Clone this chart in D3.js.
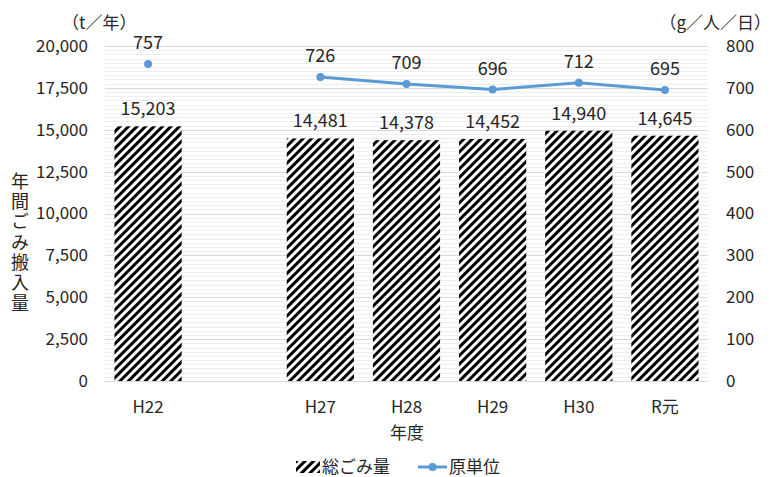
<!DOCTYPE html>
<html>
<head>
<meta charset="utf-8">
<script src="https://cdn.jsdelivr.net/npm/d3@7"></script>
<style>
  html, body { margin: 0; padding: 0; background: #fff; }
  svg text { font-family: "Noto Sans CJK JP", "Noto Sans", sans-serif; fill: #262626; }
</style>
</head>
<body>
<svg id="chart" width="771" height="477"></svg>
<script>
// categories (blank slot between H22 and H27)
const years = ["H22", " ", "H27", "H28", "H29", "H30", "R元"];
const totalWaste = [15203, null, 14481, 14378, 14452, 14940, 14645]; // t/年
const perCapita = [757, null, 726, 709, 696, 712, 695];               // g/人/日
const leftTicks = [0, 2500, 5000, 7500, 10000, 12500, 15000, 17500, 20000];
const rightTicks = [0, 100, 200, 300, 400, 500, 600, 700, 800];

const margin = { top: 46, right: 63, bottom: 96, left: 105 };
const W = 771, H = 477;
const iw = W - margin.left - margin.right;
const ih = H - margin.top - margin.bottom;

const svg = d3.select("#chart");
const defs = svg.append("defs");

// diagonal hatch for bars
const hatch = defs.append("pattern")
  .attr("id", "hatch").attr("patternUnits", "userSpaceOnUse")
  .attr("width", 6).attr("height", 6)
  .attr("patternTransform", "rotate(45)");
hatch.append("rect").attr("width", 6).attr("height", 6).attr("fill", "#fff");
hatch.append("rect").attr("x", 0).attr("width", 3).attr("height", 6).attr("fill", "#000");

const g = svg.append("g").attr("transform", `translate(${margin.left},${margin.top})`);

const x = d3.scaleBand().domain(years).range([0, iw]).paddingInner(0.22).paddingOuter(0.11);
const yL = d3.scaleLinear().domain([0, 20000]).range([ih, 0]);
const yR = d3.scaleLinear().domain([0, 800]).range([ih, 0]);

// faint minor lines (every 250)
g.append("g").selectAll("line")
  .data(d3.range(0, 20001, 250))
  .join("line")
  .attr("x1", 0).attr("x2", iw)
  .attr("y1", d => Math.round(yL(d)) + 0.5).attr("y2", d => Math.round(yL(d)) + 0.5)
  .attr("stroke", "#eeeeee").attr("stroke-width", 1);

// major gridlines
g.append("g").selectAll("line")
  .data(leftTicks)
  .join("line")
  .attr("x1", 0).attr("x2", iw)
  .attr("y1", d => Math.round(yL(d)) + 0.5).attr("y2", d => Math.round(yL(d)) + 0.5)
  .attr("stroke", "#d9d9d9").attr("stroke-width", 1);

// axes (labels only)
const fmt = d3.format(",");
const axL = g.append("g")
  .call(d3.axisLeft(yL).tickValues(leftTicks).tickFormat(fmt).tickSize(0).tickPadding(17));
const axR = g.append("g").attr("transform", `translate(${iw},0)`)
  .call(d3.axisRight(yR).tickValues(rightTicks).tickSize(0).tickPadding(18));
const axB = g.append("g").attr("transform", `translate(0,${ih})`)
  .call(d3.axisBottom(x).tickSize(0).tickPadding(20));
[axL, axR, axB].forEach(a => {
  a.select(".domain").remove();
  a.selectAll("text").style("font-size", "17px").attr("fill", "#262626")
    .style("font-family", "'Noto Sans CJK JP', sans-serif");
});

// bars
const barData = years.map((c, i) => ({ c, v: totalWaste[i] })).filter(d => d.v != null);
g.selectAll("rect.bar")
  .data(barData)
  .join("rect")
  .attr("class", "bar")
  .attr("x", d => x(d.c))
  .attr("width", x.bandwidth())
  .attr("y", d => yL(d.v))
  .attr("height", d => ih - yL(d.v))
  .attr("fill", "url(#hatch)");

g.selectAll("text.barlab")
  .data(barData)
  .join("text")
  .attr("class", "barlab")
  .attr("x", d => x(d.c) + x.bandwidth() / 2)
  .attr("y", d => yL(d.v) - 11)
  .attr("text-anchor", "middle")
  .style("font-size", "18px")
  .text(d => fmt(d.v));

// line
const lineData = years.map((c, i) => ({ c, v: perCapita[i] }));
const cx = d => x(d.c) + x.bandwidth() / 2;
const line = d3.line().defined(d => d.v != null).x(cx).y(d => yR(d.v));
g.append("path")
  .datum(lineData)
  .attr("fill", "none")
  .attr("stroke", "#5b9bd5")
  .attr("stroke-width", 3)
  .attr("d", line);

const pts = lineData.filter(d => d.v != null);
g.selectAll("circle.dot")
  .data(pts)
  .join("circle")
  .attr("class", "dot")
  .attr("cx", cx).attr("cy", d => yR(d.v))
  .attr("r", 4).attr("fill", "#5b9bd5");

g.selectAll("text.linelab")
  .data(pts)
  .join("text")
  .attr("class", "linelab")
  .attr("x", cx)
  .attr("y", d => yR(d.v) - 15)
  .attr("text-anchor", "middle")
  .style("font-size", "18px")
  .text(d => d.v);

// units
svg.append("text").attr("x", 62).attr("y", 29).style("font-size", "17px").text("（t／年）");
svg.append("text").attr("x", 771).attr("y", 29).attr("text-anchor", "end")
  .style("font-size", "17px").text("（g／人／日）");

// vertical y title
svg.append("text")
  .attr("x", 20).attr("y", 172)
  .style("writing-mode", "vertical-rl")
  .style("text-orientation", "upright")
  .style("letter-spacing", "2.3px")
  .style("font-size", "18px")
  .text("年間ごみ搬入量");

// x title
svg.append("text").attr("x", 407).attr("y", 439).attr("text-anchor", "middle")
  .style("font-size", "17px").text("年度");

// legend
const lg = svg.append("g").attr("transform", "translate(0,467)");
lg.append("rect").attr("x", 296).attr("y", -6).attr("width", 24).attr("height", 12).attr("fill", "url(#hatch)");
lg.append("text").attr("x", 322).attr("y", 6).style("font-size", "17px").text("総ごみ量");
lg.append("line").attr("x1", 418).attr("x2", 447).attr("y1", 0).attr("y2", 0)
  .attr("stroke", "#5b9bd5").attr("stroke-width", 3);
lg.append("circle").attr("cx", 432.5).attr("cy", 0).attr("r", 4).attr("fill", "#5b9bd5");
lg.append("text").attr("x", 449).attr("y", 6).style("font-size", "17px").text("原単位");
</script>
</body>
</html>
